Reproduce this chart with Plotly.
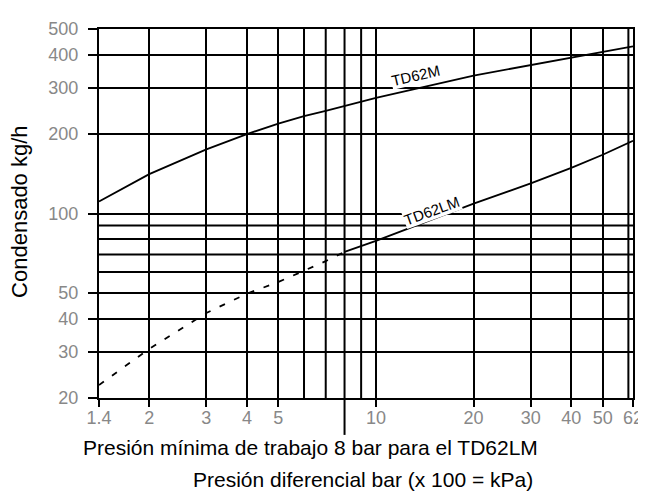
import math
import plotly.graph_objects as go

# ---- data ----
td62m_x = [1.4, 2, 3, 4, 5, 6, 7, 8, 9, 10, 20, 30, 40, 50, 62]
td62m_y = [111, 141, 175, 200, 219, 234, 245, 255, 264, 274, 333, 365, 387, 409, 430]

td62lm_dash_x = [1.4, 2, 3, 4, 5, 6, 7, 8]
td62lm_dash_y = [22.4, 30.7, 42, 49.7, 55, 60.7, 66, 71.6]
td62lm_solid_x = [8, 10, 20, 30, 40, 50, 62]
td62lm_solid_y = [71.6, 78.8, 109, 130, 149, 167, 188.5]

x_tick_vals = [1.4, 2, 3, 4, 5, 10, 20, 30, 40, 50, 62]
x_tick_text = ["1.4", "2", "3", "4", "5", "10", "20", "30", "40", "50", "62"]
x_extra_grid = [6, 7, 8, 9, 60]
x_min_pressure = 8

y_tick_vals = [20, 30, 40, 50, 100, 200, 300, 400, 500]
y_tick_text = ["20", "30", "40", "50", "100", "200", "300", "400", "500"]
y_extra_grid = [60, 70, 80, 90]

x_range = [1.4, 62]
y_range = [20, 500]

FONT = "Liberation Sans, Arial, sans-serif"

fig = go.Figure()

fig.add_trace(go.Scatter(x=td62m_x, y=td62m_y, mode="lines",
                         line=dict(color="black", width=1.8), showlegend=False))
fig.add_trace(go.Scatter(x=td62lm_dash_x, y=td62lm_dash_y, mode="lines",
                         line=dict(color="black", width=1.8, dash="6px,10px"), showlegend=False))
fig.add_trace(go.Scatter(x=td62lm_solid_x, y=td62lm_solid_y, mode="lines",
                         line=dict(color="black", width=1.8), showlegend=False))

for v in x_extra_grid:
    fig.add_shape(type="line", xref="x", yref="paper", x0=v, x1=v, y0=0, y1=1,
                  line=dict(color="black", width=2), layer="below")
for v in y_extra_grid:
    fig.add_shape(type="line", xref="paper", yref="y", x0=0, x1=1, y0=v, y1=v,
                  line=dict(color="black", width=2), layer="below")

# long marker for minimum working pressure
fig.add_shape(type="line", xref="x", yref="paper", x0=x_min_pressure, x1=x_min_pressure,
              y0=0, y1=-0.10, line=dict(color="black", width=2))

fig.add_annotation(x=math.log10(13.2), y=math.log10(334), text="TD62M", showarrow=False,
                   textangle=-13, bgcolor="white", borderpad=0,
                   xanchor="center", yanchor="middle",
                   font=dict(family=FONT, size=15, color="black"))
fig.add_annotation(x=math.log10(14.9), y=math.log10(102.6), text="TD62LM", showarrow=False,
                   textangle=-20, bgcolor="white", borderpad=0,
                   xanchor="center", yanchor="middle",
                   font=dict(family=FONT, size=15, color="black"))

fig.add_annotation(xref="paper", yref="paper", x=0.396, y=-0.134,
                   xanchor="center", yanchor="middle", borderpad=0,
                   text="Presión mínima de trabajo 8 bar para el TD62LM", showarrow=False,
                   font=dict(family=FONT, size=21, color="black"))
fig.add_annotation(xref="paper", yref="paper", x=0.494, y=-0.222,
                   xanchor="center", yanchor="middle", borderpad=0,
                   text="Presión diferencial bar (x 100 = kPa)", showarrow=False,
                   font=dict(family=FONT, size=21, color="black"))
fig.add_annotation(xref="paper", yref="paper", x=-0.150, y=0.504,
                   xanchor="center", yanchor="middle", borderpad=0,
                   text="Condensado kg/h", showarrow=False, textangle=-90,
                   font=dict(family=FONT, size=22, color="black"))

axis_common = dict(type="log", showline=True, linewidth=2, linecolor="black", mirror=True,
                   showgrid=True, gridcolor="black", gridwidth=2, zeroline=False,
                   ticks="outside", tickwidth=2, tickcolor="black",
                   ticklabeloverflow="allow",
                   tickfont=dict(family=FONT, size=18, color="#888"))

fig.update_xaxes(**axis_common, range=[math.log10(x_range[0]), math.log10(x_range[1])],
                 tickvals=x_tick_vals, ticktext=x_tick_text, ticklen=7, ticklabelstandoff=-5)
fig.update_yaxes(**axis_common, range=[math.log10(y_range[0]), math.log10(y_range[1])],
                 tickvals=y_tick_vals, ticktext=y_tick_text, ticklen=9, ticklabelstandoff=6)

fig.update_layout(width=646, height=493, margin=dict(l=91, r=11, t=16, b=103),
                  plot_bgcolor="white", paper_bgcolor="white", showlegend=False)

fig.write_html("out.html")
